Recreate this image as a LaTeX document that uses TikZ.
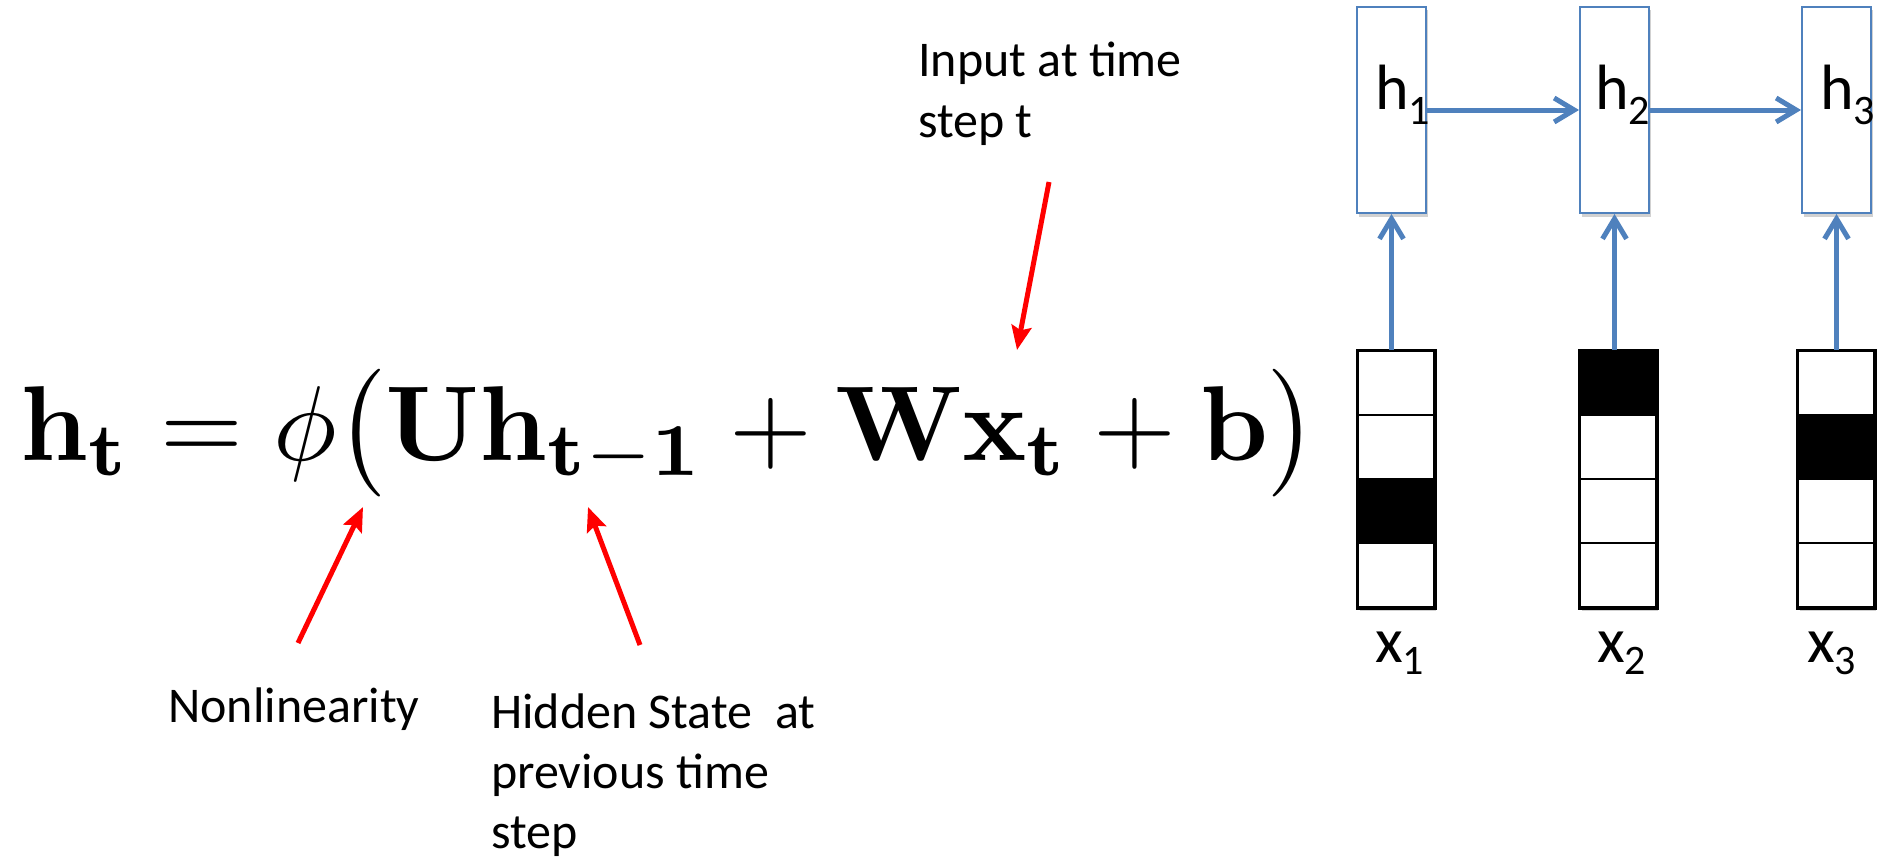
\RequirePackage{fix-cm}
\documentclass[tikz,border=0pt]{standalone}
\usepackage{amsmath}
\usepackage{graphicx}
\usepackage[no-math]{fontspec}
\newfontfamily\calibrifont{Carlito}
\usetikzlibrary{arrows.meta,shadows}
\definecolor{rnnblue}{RGB}{79,129,189}
\newcommand\parenL{\mathopen{\left(\vcenter to 12.5pt{}\right.}}
\newcommand\parenR{\mathclose{\left.\vcenter to 12.5pt{}\right)}}
\begin{document}
\begin{tikzpicture}[x=1pt,y=-1pt,
  softshadow/.style={drop shadow={shadow xshift=1.5pt, shadow yshift=-3.5pt, fill=black, opacity=0.18}},
  hbox/.style={draw=rnnblue, line width=2pt, fill=white, minimum width=69pt, minimum height=206pt, inner sep=0pt, softshadow},
  cellw/.style={draw=black, line width=2pt, fill=white, minimum width=76pt, minimum height=64pt, inner sep=0pt},
  cellb/.style={cellw, fill=black},
  vecframe/.style={draw=black, line width=3pt},
  lbl/.style={font=\calibrifont\fontsize{50}{60}\selectfont, anchor=base west, inner sep=0pt},
  vlbl/.style={font=\calibrifont\fontsize{64}{70}\selectfont, anchor=base west, inner sep=0pt},
  blueline/.style={draw=rnnblue, line width=5pt, -{Straight Barb[length=20pt,width=24pt]}},
  redline/.style={draw=red, line width=5pt, -{Stealth[length=24pt,width=20pt,inset=4pt]}}
]
\useasboundingbox[fill=white] (0,0) rectangle (1885,859);

% equation
\node[anchor=base west, inner sep=0pt] (eq) at (20,460)
  {\scalebox{10.65}{\fontsize{10}{12}\selectfont\nulldelimiterspace=0pt$\mathbf{h_t} = \phi\parenL\mathbf{Uh_{t-1}} + \mathbf{Wx_t} + \mathbf{b}\parenR$}};

% labels
\node[lbl] (inp1) at (918,77) {Input at time};
\node[lbl] (inp2) at (918,137) {step t};
\node[lbl] (nonlin) at (168,722) {Nonlinearity};
\node[lbl] (hid1) at (491,728) {Hidden State\ \ at};
\node[lbl] (hid2) at (491,788) {previous time};
\node[lbl] (hid3) at (491,848) {step};

% red arrows
\coordinate (inTail) at (1049,182);
\coordinate (inTip) at (1017,350);
\coordinate (nlTail) at (298,643);
\coordinate (nlTip) at (363,507);
\coordinate (hsTail) at (640,645);
\coordinate (hsTip) at (588,507);
\draw[redline] (inTail) -- (inTip);
\draw[redline] (nlTail) -- (nlTip);
\draw[redline] (hsTail) -- (hsTip);

% hidden boxes
\node[hbox] (hb1) at (1391.5,110) {};
\node[hbox] (hb2) at (1614.5,110) {};
\node[hbox] (hb3) at (1836.5,110) {};
\node[vlbl] (ht1) at (1375,110) {h\raisebox{-14pt}{\fontsize{42}{42}\selectfont 1}};
\node[vlbl] (ht2) at (1595,110) {h\raisebox{-14pt}{\fontsize{42}{42}\selectfont 2}};
\node[vlbl] (ht3) at (1820,110) {h\raisebox{-14pt}{\fontsize{42}{42}\selectfont 3}};

% input one-hot vectors
\fill[black, opacity=0.18] (1359.5,354.5) rectangle (1435.5,610.5);
\fill[black, opacity=0.18] (1581.5,354.5) rectangle (1657.5,610.5);
\fill[black, opacity=0.18] (1799.5,354.5) rectangle (1875.5,610.5);
\node[cellw] (c11) at (1396,383) {};
\node[cellw] (c12) at (1396,447) {};
\node[cellb] (c13) at (1396,511) {};
\node[cellw] (c14) at (1396,575) {};
\node[cellb] (c21) at (1618,383) {};
\node[cellw] (c22) at (1618,447) {};
\node[cellw] (c23) at (1618,511) {};
\node[cellw] (c24) at (1618,575) {};
\node[cellw] (c31) at (1836,383) {};
\node[cellb] (c32) at (1836,447) {};
\node[cellw] (c33) at (1836,511) {};
\node[cellw] (c34) at (1836,575) {};
\draw[vecframe] (c11.north west) rectangle (c14.south east);
\draw[vecframe] (c21.north west) rectangle (c24.south east);
\draw[vecframe] (c31.north west) rectangle (c34.south east);
\node[vlbl] (xt1) at (1375,662) {x\raisebox{-12pt}{\fontsize{42}{42}\selectfont 1}};
\node[vlbl] (xt2) at (1597,662) {x\raisebox{-12pt}{\fontsize{42}{42}\selectfont 2}};
\node[vlbl] (xt3) at (1807,662) {x\raisebox{-12pt}{\fontsize{42}{42}\selectfont 3}};

% blue connectors
\draw[blueline] (hb1.east) -- (hb2.west);
\draw[blueline] (hb2.east) -- (hb3.west);
\draw[blueline] (hb1.south |- c11.north) -- (hb1.south);
\draw[blueline] (hb2.south |- c21.north) -- (hb2.south);
\draw[blueline] (hb3.south |- c31.north) -- (hb3.south);
\end{tikzpicture}
\end{document}
